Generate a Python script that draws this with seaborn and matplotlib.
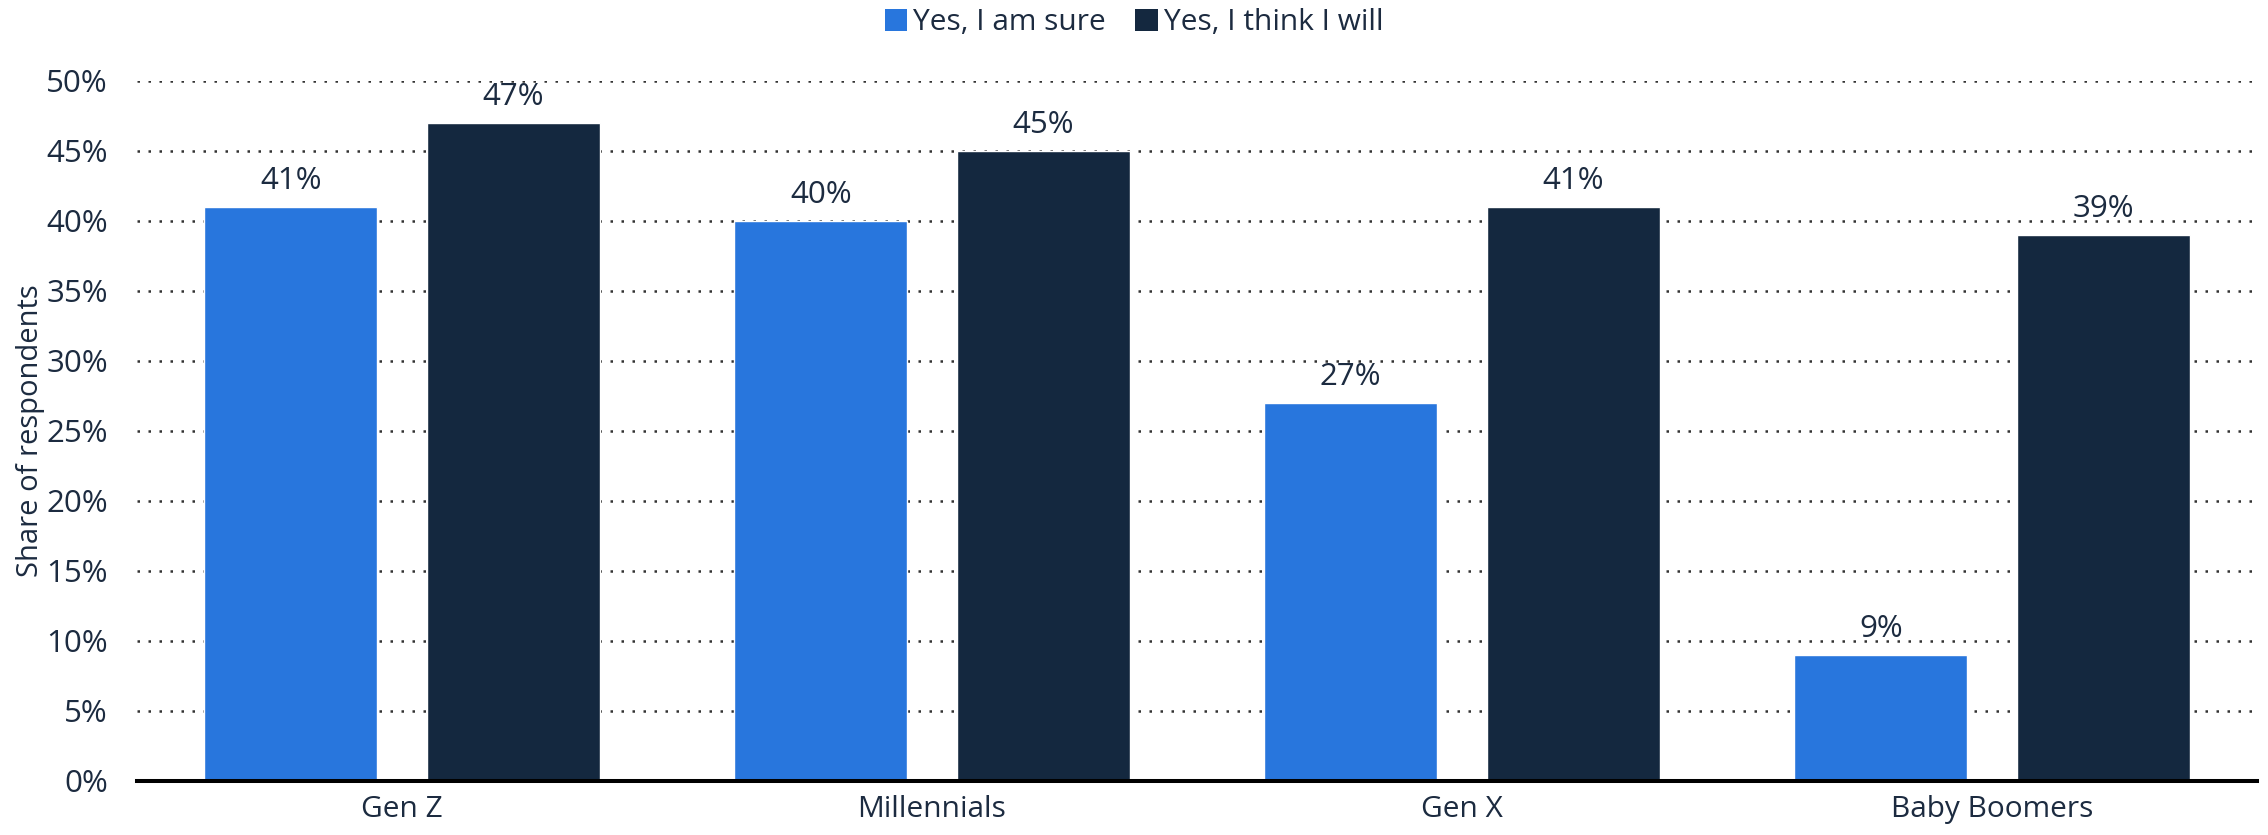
import matplotlib
matplotlib.use("Agg")
import matplotlib.pyplot as plt
import seaborn as sns
import pandas as pd
from matplotlib.patches import Patch

generations = ["Gen Z", "Millennials", "Gen X", "Baby Boomers"]
series_names = ["Yes, I am sure", "Yes, I think I will"]
sure_values = [41, 40, 27, 9]
think_values = [47, 45, 41, 39]
y_ticks = [0, 5, 10, 15, 20, 25, 30, 35, 40, 45, 50]

colors = ["#2876dd", "#14283f"]
text_color = "#1c2b40"

df = pd.DataFrame({
    "generation": generations * 2,
    "answer": [series_names[0]] * 4 + [series_names[1]] * 4,
    "share": sure_values + think_values,
})

sns.set_theme(style="white")
plt.rcParams["font.family"] = ["Open Sans", "DejaVu Sans"]

fig = plt.figure(figsize=(22.68, 8.35), dpi=100)
ax = fig.add_axes([137 / 2268, 1 - 781 / 835, (2257 - 137) / 2268, (781 - 81) / 835])

sns.barplot(data=df, x="generation", y="share", hue="answer",
            order=generations, hue_order=series_names,
            palette=colors, width=0.84, gap=0.224, saturation=1,
            ax=ax, legend=False, zorder=3)

ax.set_xlim(-0.5, 3.5)
ax.set_ylim(0, 50)
ax.set_yticks(y_ticks)
ax.set_yticklabels([f"{t}%" for t in y_ticks])
ax.yaxis.grid(True, color="#333333", linestyle=(0, (1, 3.4)), linewidth=1.8, zorder=0)
ax.xaxis.grid(False)
ax.set_axisbelow(True)

for s in ["top", "right", "left"]:
    ax.spines[s].set_visible(False)
ax.spines["bottom"].set_color("black")
ax.spines["bottom"].set_linewidth(2.9)
ax.spines["bottom"].set_zorder(5)

ax.tick_params(axis="y", length=0, pad=21, labelsize=22.5, labelcolor=text_color)
ax.tick_params(axis="x", length=0, pad=10, labelsize=21.5, labelcolor=text_color)
ax.set_xlabel("")
ax.set_ylabel("Share of respondents", fontsize=21, color=text_color)
ax.yaxis.set_label_coords(-0.0434, 0.5)

for container in ax.containers:
    ax.bar_label(container, labels=[f"{v:.0f}%" for v in container.datavalues],
                 padding=8, fontsize=22.5, color=text_color)

handles = [Patch(facecolor=c, edgecolor="none") for c in colors]
fig.legend(handles, series_names, loc="center", bbox_to_anchor=(0.5, 1 - 23 / 835),
           ncol=2, frameon=False, fontsize=21.5, labelcolor=text_color,
           handlelength=0.75, handleheight=0.75, handletextpad=0.2, columnspacing=1.0)

fig.savefig("out.png", dpi=100)
